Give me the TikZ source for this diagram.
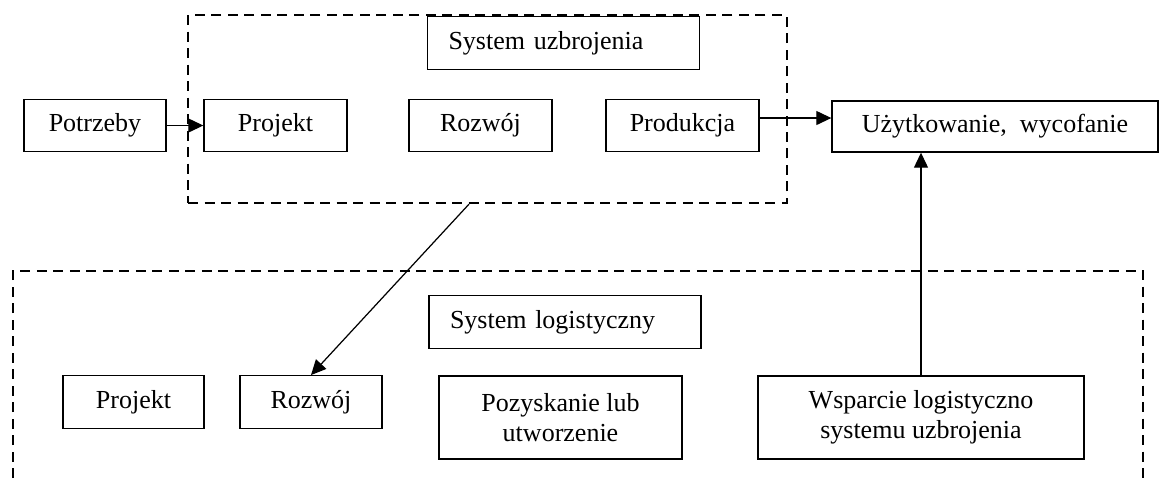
\documentclass[tikz,border=0pt]{standalone}
\usepackage{fontspec}
\setmainfont{Liberation Serif}
\usetikzlibrary{arrows.meta,calc}

\begin{document}
\begin{tikzpicture}[x=0.02cm,y=-0.02cm,>={Triangle[length=0.3cm,width=0.28cm]},
 font=\fontsize{14.8pt}{17pt}\selectfont,
 box/.style={draw,line width=0.8pt,minimum height=1.05cm,align=center,inner sep=0pt},
 line/.style={text height=0.9em,text depth=0.2em},
 title/.style={box,line,text width=4.6cm,inner xsep=0.42cm,align=left},
 group/.style={draw,line width=1.3pt,dash pattern=on 0.2cm off 0.13cm},
 conn/.style={->,line width=0.7pt}]
\useasboundingbox (0,0) rectangle (1160,478);
\node[group,minimum width=11.98cm,minimum height=3.76cm] (sysU) at (487.5,109) {};
\node[title] (tytulU) at (563.5,43) {System uzbrojenia};
\node[box,line,minimum width=2.84cm] (potrzeby) at (95,125.5) {Potrzeby};
\node[box,line,minimum width=2.86cm] (projektU) at (275.5,125.5) {Projekt};
\node[box,line,minimum width=2.86cm] (rozwojU) at (480.5,125.5) {Rozwój};
\node[box,line,minimum width=3.06cm] (produkcja) at (682.5,125.5) {Produkcja};
\node[box,line,minimum width=6.52cm,minimum height=1.02cm] (uzytkowanie) at (995,126.5) {Użytkowanie,\ \ wycofanie};
\draw[group] (13,478) |- (1143,271) -- (1143,478);
\node[title] (tytulL) at (565,322) {System logistyczny};
\node[box,line,minimum width=2.82cm] (projektL) at (133.5,402) {Projekt};
\node[box,line,minimum width=2.84cm] (rozwojL) at (311,402) {Rozwój};
\node[box,minimum width=4.86cm,minimum height=1.66cm] (pozyskanie) at (560.5,417.5) {Pozyskanie lub\\utworzenie};
\node[box,minimum width=6.52cm,minimum height=1.66cm] (wsparcie) at (921,417.5) {Wsparcie logistyczno\\systemu uzbrojenia};
\draw[conn] (potrzeby.east) -- (projektU.west);
\draw[conn] ([yshift=0.15cm]produkcja.east) -- ([yshift=0.15cm]produkcja.east -| uzytkowanie.west);
\draw[conn] ([xshift=-0.37cm]sysU.south) -- (rozwojL.north);
\draw[conn] (wsparcie.north) -- (wsparcie.north |- uzytkowanie.south);
\end{tikzpicture}
\end{document}
